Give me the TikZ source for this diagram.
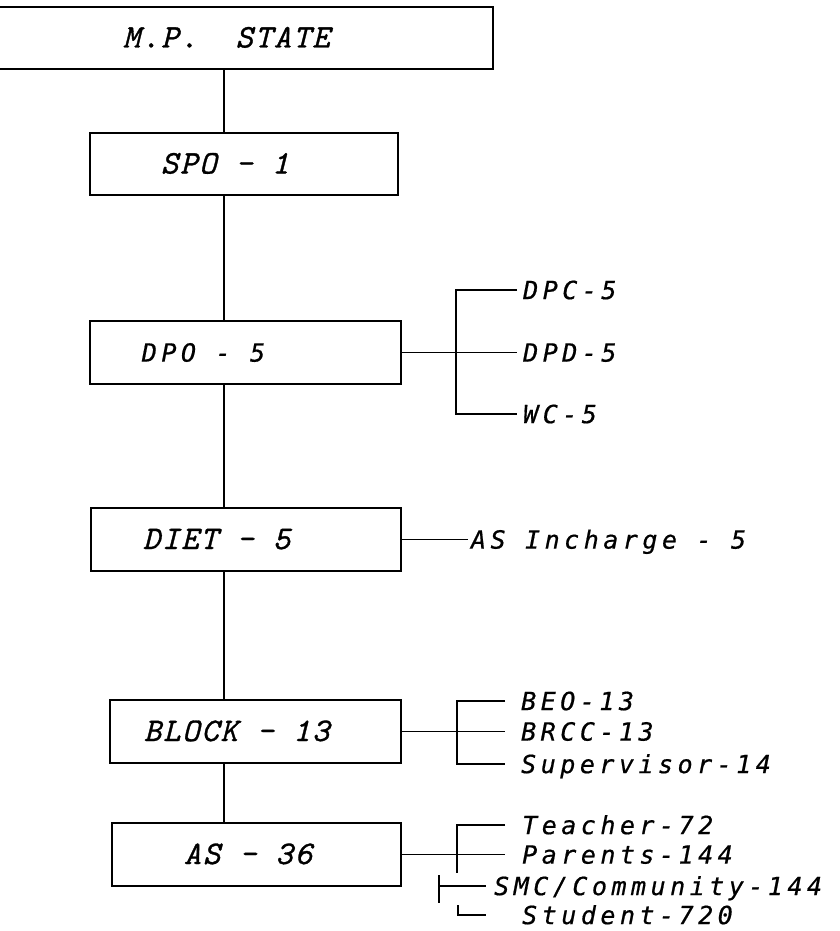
\documentclass[tikz,border=0pt]{standalone}
\usepackage{fontspec}
\usetikzlibrary{positioning}
\newfontfamily\boxfont{lmmono10-italic.otf}[LetterSpace=5.5,FakeBold=1]
\newfontfamily\leaffont{DejaVu Sans Mono}[LetterSpace=18,FakeBold=0.6]
\newcommand{\gap}{\hspace{19pt}}
\newcommand{\lgap}{\hspace{19.5pt}}
\tikzset{unit/.style={draw,line width=1.8pt,anchor=west,minimum height=62.5pt,inner ysep=0pt,align=left,
    text height=19pt,text depth=0pt,font=\boxfont\fontsize{33}{33}\selectfont},
  sansunit/.style={unit,text height=18.2pt,font=\leaffont\itshape\fontsize{25}{25}\selectfont},
  leaf/.style={anchor=west,inner xsep=3pt,inner ysep=0pt,text height=18.2pt,text depth=0pt,
    font=\leaffont\itshape\fontsize{25}{25}\selectfont},
  link/.style={line width=1.4pt}}
\begin{document}
\begin{tikzpicture}[x=1pt,y=-1pt]
\useasboundingbox (0,0) rectangle (840,931);
\clip (0,0) rectangle (840,931);
\node[unit,text width=208pt,inner xsep=162pt] (state) at (-40,38) {\mbox{M.P.\gap\gap STATE}};
\node[unit,text width=166pt,inner xsep=71pt] (spo) at (89,164) {SPO\gap-\gap1};
\node[sansunit,text width=207pt,inner xsep=52pt] (dpo) at (89,352.5) {DPO\lgap-\lgap5};
\node[unit,text width=206pt,inner xsep=52pt] (diet) at (90,539.5) {DIET\gap-\gap5};
\node[unit,text width=223pt,inner xsep=34pt] (block) at (109,731.5) {BLOCK\gap-\gap13};
\node[unit,text width=145pt,inner xsep=72pt] (asbox) at (111,854.5) {AS\gap-\gap36};
\coordinate (spine) at (224,0);
\foreach \a/\b in {state/spo,spo/dpo,dpo/diet,diet/block,block/asbox}
  \draw[link] (\a.south -| spine) -- (\b.north -| spine);
% DPO
\node[leaf,inner xsep=6pt] (dpc) at (517,290) {DPC-5};
\node[leaf,inner xsep=6pt] (dpd) at (517,352.5) {DPD-5};
\node[leaf,inner xsep=6pt] (wc) at (517,414) {WC-5};
\coordinate (dpofork) at (456,352.5);
\draw[link] (dpo.east) -- (dpd.west);
\draw[link] (dpc.west) -| (dpofork) |- (wc.west);
% DIET
\node[leaf,right=66pt of diet] (incharge) {AS\lgap Incharge\lgap-\lgap5};
\draw[link] (diet.east) -- (incharge.west);
% BLOCK
\node[leaf,inner xsep=16pt] (beo) at (505,701) {BEO-13};
\node[leaf,inner xsep=16pt] (brcc) at (505,731.5) {BRCC-13};
\node[leaf,inner xsep=16pt] (sup) at (505,764) {Supervisor-14};
\coordinate (blockfork) at (457,731.5);
\draw[link] (block.east) -- (brcc.west);
\draw[link] (beo.west) -| (blockfork) |- (sup.west);
% AS
\node[leaf,inner xsep=17pt] (teacher) at (505,825) {Teacher-72};
\node[leaf,inner xsep=17pt] (parents) at (505,854.5) {Parents-144};
\node[leaf,inner xsep=8pt] (smc) at (486,886) {SMC/Community-144};
\node[leaf,inner xsep=36pt] (student) at (486,915) {Student-720};
\coordinate (asend) at (457,873);
\coordinate (smctop) at (439,875);
\coordinate (smcbot) at (439,903);
\coordinate (stutop) at (458,905);
\draw[link] (asbox.east) -- (parents.west);
\draw[link] (teacher.west) -| (asend);
\draw[link] (smctop) -- (smcbot);
\draw[link] (smc.west -| smctop) -- (smc.west);
\draw[link] (stutop) |- (student.west);
\end{tikzpicture}
\end{document}
